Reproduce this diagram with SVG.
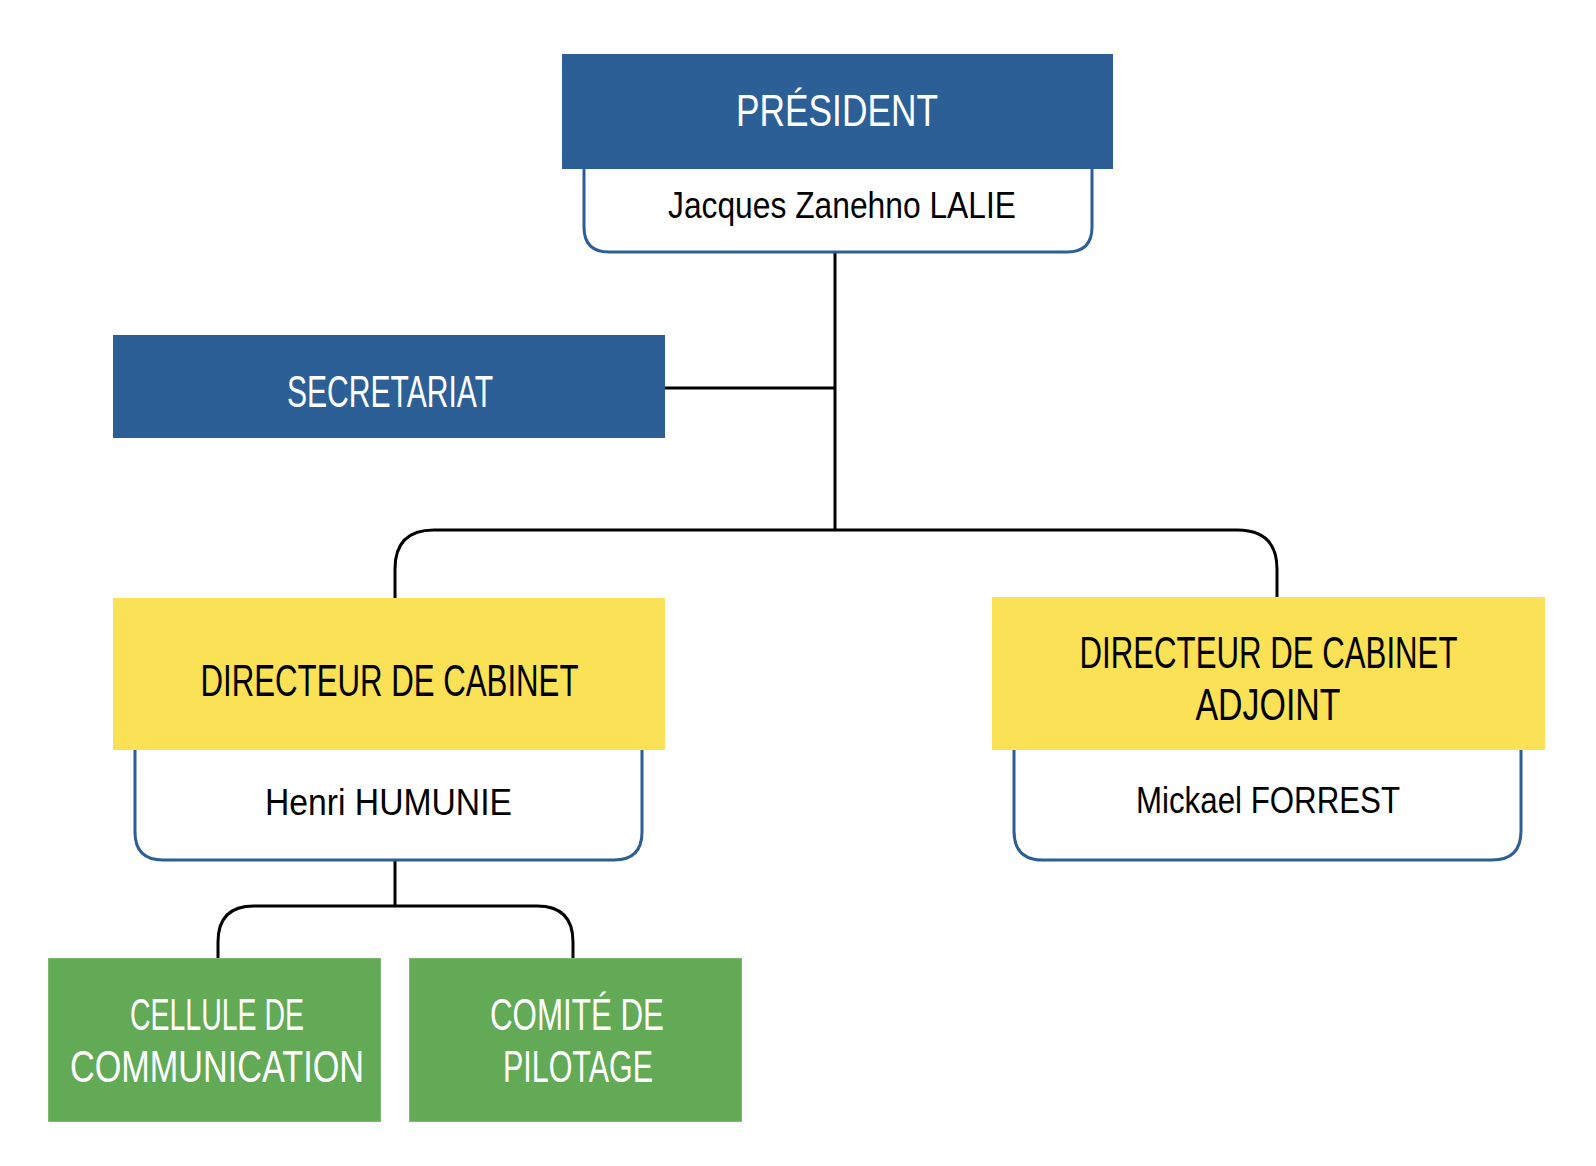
<svg xmlns="http://www.w3.org/2000/svg" width="1596" height="1166" viewBox="0 0 1596 1166">
<style>
.blue{fill:#2B5F96}
.yellow{fill:#FAE155}
.green{fill:#62AA56;stroke:#7DBA72;stroke-width:1}
.card{fill:#fff;stroke:#2B5F96;stroke-width:3}
.conn{fill:none;stroke:#000;stroke-width:3}
.t{font-family:"Liberation Sans",Arial,sans-serif;font-size:45px;text-anchor:middle}
.w{fill:#fff}
.k{fill:#000}
.n{font-family:"Liberation Sans",Arial,sans-serif;font-size:36px;text-anchor:middle;fill:#000}
</style>
<rect width="1596" height="1166" fill="#fff"/>
<g id="connectors">
<path class="conn" d="M835 253 V530"/>
<path class="conn" d="M665 388 H835"/>
<path class="conn" d="M395 598 V569 Q395 530 434 530 H1237 Q1277 530 1277 569 V597"/>
<path class="conn" d="M395 860 V906"/>
<path class="conn" d="M218 958 V942 Q218 906 254 906 H537 Q573 906 573 942 V958"/>
</g>
<g id="president">
<path class="card" d="M584 160 V227 Q584 252 609 252 H1067 Q1092 252 1092 227 V160"/>
<rect class="blue" x="562" y="54" width="551" height="115"/>
<text class="t w" x="837" y="126" textLength="202" lengthAdjust="spacingAndGlyphs">PRÉSIDENT</text>
<text class="n" x="842" y="218" textLength="348" lengthAdjust="spacingAndGlyphs">Jacques Zanehno LALIE</text>
</g>
<g id="secretariat">
<rect class="blue" x="113" y="335" width="552" height="103"/>
<text class="t w" x="390" y="407" textLength="206" lengthAdjust="spacingAndGlyphs">SECRETARIAT</text>
</g>
<g id="directeur">
<path class="card" d="M135 745 V832 Q135 860 163 860 H614 Q642 860 642 832 V745"/>
<rect class="yellow" x="113" y="598" width="552" height="152"/>
<text class="t k" x="389.5" y="696" textLength="378" lengthAdjust="spacingAndGlyphs">DIRECTEUR DE CABINET</text>
<text class="n" x="388.5" y="815" textLength="247" lengthAdjust="spacingAndGlyphs">Henri HUMUNIE</text>
</g>
<g id="directeur-adjoint">
<path class="card" d="M1014 745 V831 Q1014 860 1043 860 H1492 Q1521 860 1521 831 V745"/>
<rect class="yellow" x="992" y="597" width="553" height="153"/>
<text class="t k" x="1268.5" y="668" textLength="378" lengthAdjust="spacingAndGlyphs">DIRECTEUR DE CABINET</text>
<text class="t k" x="1268" y="720" textLength="145" lengthAdjust="spacingAndGlyphs">ADJOINT</text>
<text class="n" x="1268" y="813" textLength="264" lengthAdjust="spacingAndGlyphs">Mickael FORREST</text>
</g>
<g id="cellule">
<rect class="green" x="48.5" y="958.5" width="332" height="163"/>
<text class="t w" x="217" y="1030" textLength="174" lengthAdjust="spacingAndGlyphs">CELLULE DE</text>
<text class="t w" x="217" y="1082" textLength="294" lengthAdjust="spacingAndGlyphs">COMMUNICATION</text>
</g>
<g id="comite">
<rect class="green" x="409.5" y="958.5" width="332" height="163"/>
<text class="t w" x="577" y="1030" textLength="174" lengthAdjust="spacingAndGlyphs">COMITÉ DE</text>
<text class="t w" x="578" y="1082" textLength="150" lengthAdjust="spacingAndGlyphs">PILOTAGE</text>
</g>
</svg>
